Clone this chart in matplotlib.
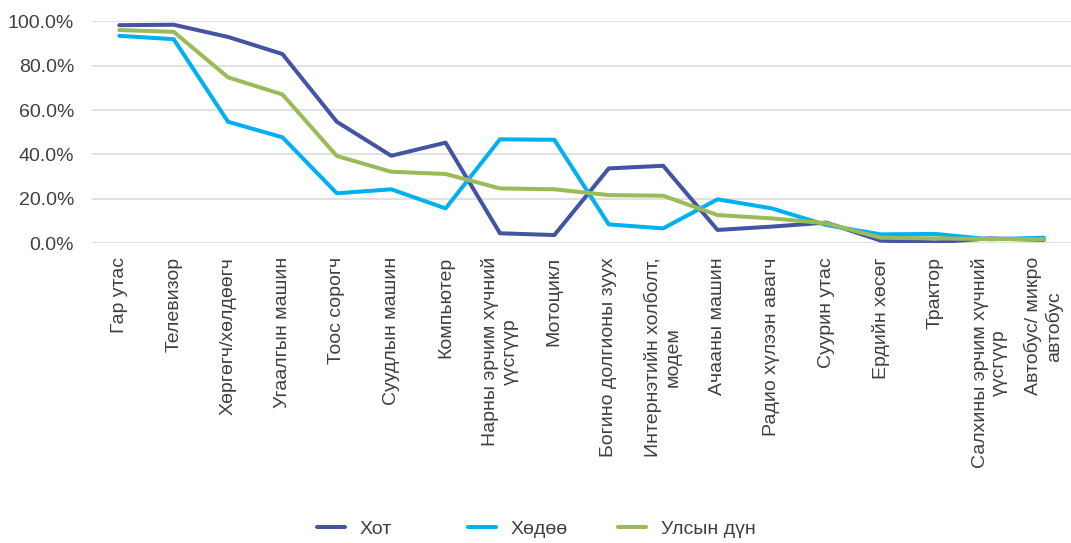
import matplotlib
matplotlib.use("Agg")
import matplotlib.pyplot as plt
from matplotlib.ticker import PercentFormatter

categories = [
    "Гар утас", "Телевизор", "Хөргөгч/хөлдөөгч", "Угаалгын машин",
    "Тоос сорогч", "Суудлын машин", "Компьютер",
    "Нарны эрчим хүчний\nүүсгүүр", "Мотоцикл", "Богино долгионы зуух",
    "Интернэтийн холболт,\nмодем", "Ачааны машин", "Радио хүлээн авагч",
    "Суурин утас", "Ердийн хөсөг", "Трактор",
    "Салхины эрчим хүчний\nүүсгүүр", "Автобус/ микро\nавтобус",
]

# values in percent
hot = [98.2, 98.4, 92.9, 85.2, 54.7, 39.4, 45.3, 4.5, 3.7, 33.7,
       34.9, 6.0, 7.5, 9.3, 1.2, 0.4, 2.2, 1.5]
khudoo = [93.4, 91.9, 54.7, 47.7, 22.5, 24.3, 15.7, 46.8, 46.6, 8.5,
          6.7, 19.8, 15.7, 8.2, 4.0, 4.2, 1.8, 2.5]
uls = [96.0, 95.2, 74.7, 67.0, 39.3, 32.2, 31.2, 24.7, 24.3, 21.7,
       21.4, 12.7, 11.2, 9.0, 2.5, 2.2, 1.9, 1.8]

series_names = ["Хот", "Хөдөө", "Улсын дүн"]
colors = ["#4454A3", "#00B0F0", "#9BBB59"]

plt.rcParams["font.family"] = ["Liberation Sans", "DejaVu Sans"]
text_col = "#404040"

fig = plt.figure(figsize=(10.71, 5.43), dpi=100)
ax = fig.add_axes([0.086, 0.552, 0.914, 0.409])

x = list(range(len(categories)))
lines = []
for vals, name, c in zip([hot, khudoo, uls], series_names, colors):
    ln, = ax.plot(x, [v / 100 for v in vals], color=c, lw=2.9, label=name,
                  solid_capstyle="round", solid_joinstyle="round")
    lines.append(ln)

ax.set_xlim(-0.5, len(categories) - 0.5)
ax.set_ylim(0, 1.0)
ax.set_yticks([0, 0.2, 0.4, 0.6, 0.8, 1.0])
ax.yaxis.set_major_formatter(PercentFormatter(1.0, decimals=1))
ax.grid(axis="y", color="#D9D9D9", lw=1.1)
ax.set_axisbelow(True)
for s in ax.spines.values():
    s.set_visible(False)
ax.tick_params(axis="both", length=0, labelsize=14, colors=text_col)
ax.tick_params(axis="y", pad=13)
ax.set_xticks(x)
ax.set_xticklabels(categories, rotation=90, ha="center", va="top",
                   multialignment="center")
ax.tick_params(axis="x", pad=10)

# legend entries in equal-width slots, like the original
for i, ln in enumerate(lines):
    fig.legend(handles=[ln], loc="center left", frameon=False, fontsize=14,
               handlelength=1.45, handletextpad=0.75, borderpad=0,
               borderaxespad=0, labelcolor=text_col,
               bbox_to_anchor=((317 + 150.5 * i) / 1071, 0.025))

fig.savefig("out.png", dpi=100)
